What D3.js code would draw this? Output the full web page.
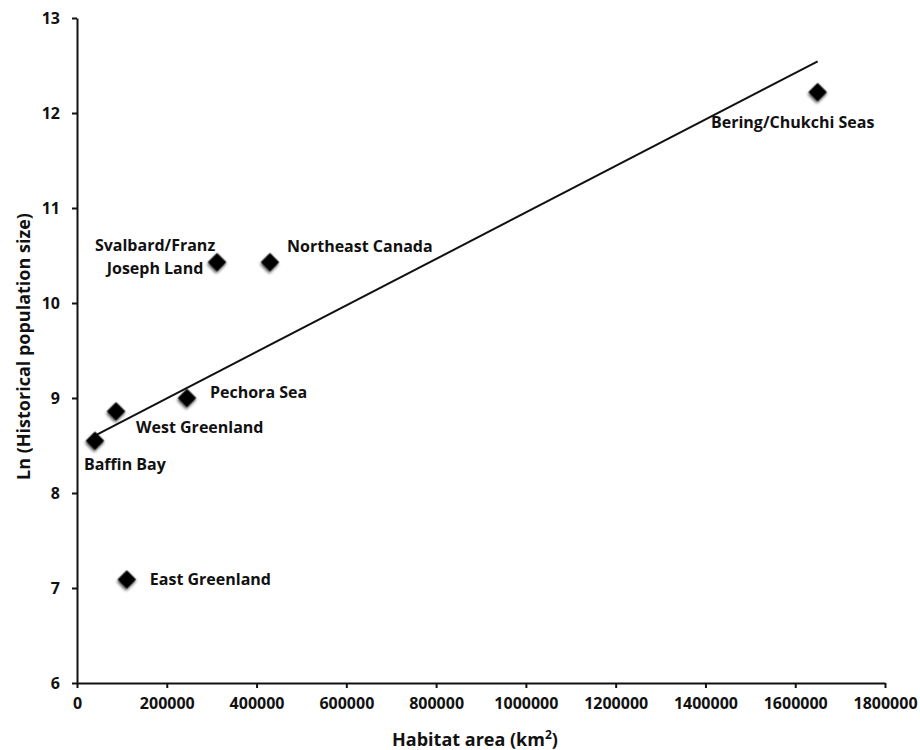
<!DOCTYPE html>
<html>
<head>
<meta charset="utf-8">
<script src="https://cdnjs.cloudflare.com/ajax/libs/d3/7.8.5/d3.min.js"></script>
<style>
  body { margin: 0; background: #fff; }
  text { font-family: "Open Sans", "DejaVu Sans", sans-serif; font-weight: bold; fill: #111; }
  .axis path, .axis line { stroke: #111; stroke-width: 2; }
  .axis text { font-size: 16px; }
</style>
</head>
<body>
<div id="chart"></div>
<script>
// data
let regions = ["Baffin Bay", "West Greenland", "East Greenland", "Pechora Sea",
  "Svalbard/Franz Joseph Land", "Northeast Canada", "Bering/Chukchi Seas"];
let habitatArea = [40000, 87000, 111000, 245000, 312000, 430000, 1650000];
let lnPopulation = [8.55, 8.86, 7.09, 9.0, 10.43, 10.43, 12.22];
let xTicks = [0, 200000, 400000, 600000, 800000, 1000000, 1200000, 1400000, 1600000, 1800000];
let yTicks = [6, 7, 8, 9, 10, 11, 12, 13];

// where each label sits relative to its point
let labelLayout = [
  {dx: -11, dy: 24, anchor: "start"},
  {dx: 20, dy: 16, anchor: "start"},
  {dx: 23, dy: 0, anchor: "start"},
  {dx: 23, dy: -6, anchor: "start"},
  {dx: -62, dy: -17, anchor: "middle", lines: ["Svalbard/Franz", "Joseph Land"]},
  {dx: 17, dy: -16, anchor: "start"},
  {dx: -25, dy: 30, anchor: "middle"}
];

let data = regions.map((r, i) => ({name: r, x: habitatArea[i], y: lnPopulation[i]}));

let margin = {top: 18, right: 35, bottom: 67, left: 77};
let width = 920 - margin.left - margin.right;
let height = 750 - margin.top - margin.bottom;

let svg = d3.select("#chart").append("svg")
  .attr("width", 920)
  .attr("height", 750);

let defs = svg.append("defs");
defs.append("filter")
  .attr("id", "shadow")
  .attr("x", "-50%").attr("y", "-50%").attr("width", "200%").attr("height", "200%")
  .html('<feGaussianBlur in="SourceAlpha" stdDeviation="1.6"/><feOffset dx="0.5" dy="1.5" result="b"/>' +
        '<feComponentTransfer><feFuncA type="linear" slope="0.7"/></feComponentTransfer>' +
        '<feMerge><feMergeNode/><feMergeNode in="SourceGraphic"/></feMerge>');

let g = svg.append("g")
  .attr("transform", `translate(${margin.left},${margin.top})`);

let x = d3.scaleLinear().domain([0, 1800000]).range([0, width]);
let y = d3.scaleLinear().domain([6, 13]).range([height, 0]);

let xAxis = d3.axisBottom(x).tickValues(xTicks).tickFormat(d => d).tickSize(5).tickSizeOuter(0).tickPadding(10);
let yAxis = d3.axisLeft(y).tickValues(yTicks).tickFormat(d => d).tickSize(5).tickSizeOuter(0).tickPadding(12);

g.append("g").attr("class", "axis")
  .attr("transform", `translate(0,${height})`)
  .call(xAxis);

g.append("g").attr("class", "axis")
  .call(yAxis);

// least squares trend line
let mx = d3.mean(data, d => d.x), my = d3.mean(data, d => d.y);
let sxy = d3.sum(data, d => (d.x - mx) * (d.y - my));
let sxx = d3.sum(data, d => (d.x - mx) * (d.x - mx));
let slope = sxy / sxx, icpt = my - slope * mx;
let xExt = d3.extent(data, d => d.x);

g.append("line")
  .attr("x1", x(xExt[0])).attr("y1", y(icpt + slope * xExt[0]))
  .attr("x2", x(xExt[1])).attr("y2", y(icpt + slope * xExt[1]))
  .attr("stroke", "#111")
  .attr("stroke-width", 2);

// diamonds
g.selectAll("rect.pt")
  .data(data)
  .enter()
  .append("rect")
  .attr("class", "pt")
  .attr("x", -6.5).attr("y", -6.5)
  .attr("width", 13).attr("height", 13)
  .attr("fill", "#000")
  .attr("filter", "url(#shadow)")
  .attr("transform", d => `translate(${x(d.x)},${y(d.y)}) rotate(45)`);

// point labels
let labels = g.selectAll("text.lbl")
  .data(data)
  .enter()
  .append("text")
  .attr("class", "lbl")
  .attr("font-size", "16px")
  .attr("text-anchor", (d, i) => labelLayout[i].anchor)
  .attr("x", (d, i) => x(d.x) + labelLayout[i].dx)
  .attr("y", (d, i) => y(d.y) + labelLayout[i].dy)
  .attr("dy", "0.35em");

labels.each(function(d, i) {
  let el = d3.select(this);
  let lay = labelLayout[i];
  if (lay.lines) {
    lay.lines.forEach((ln, j) => {
      el.append("tspan")
        .attr("x", x(d.x) + lay.dx)
        .attr("dy", j == 0 ? "0.35em" : "23px")
        .text(ln);
    });
  } else {
    el.text(d.name);
  }
});

// axis titles
let xTitle = svg.append("text")
  .attr("x", margin.left + x(900000) - 6)
  .attr("y", 746)
  .attr("font-size", "18px")
  .attr("text-anchor", "middle");
xTitle.append("tspan").text("Habitat area (km");
xTitle.append("tspan").attr("font-size", "12px").attr("dy", "-7").text("2");
xTitle.append("tspan").attr("dy", "7").text(")");

svg.append("text")
  .attr("transform", `translate(30,${margin.top + y(9.5) - 4}) rotate(-90)`)
  .attr("font-size", "18px")
  .attr("text-anchor", "middle")
  .text("Ln (Historical population size)");
</script>
</body>
</html>
